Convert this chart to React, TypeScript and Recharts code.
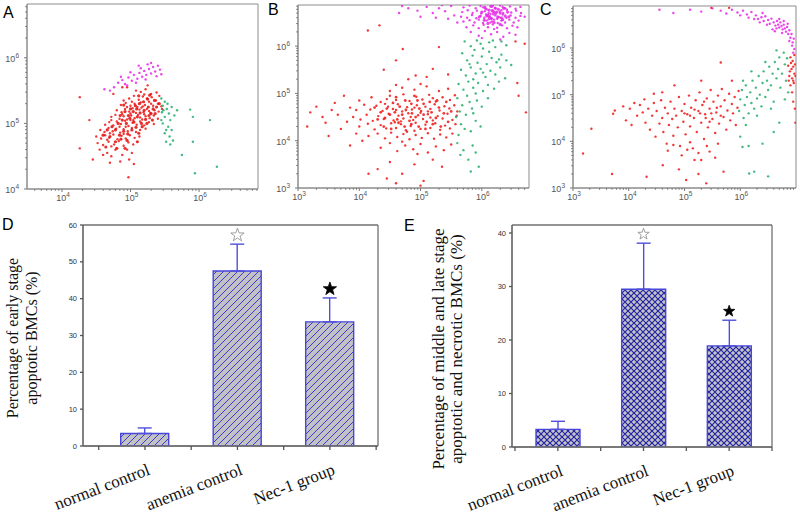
import React from "react"
import { Bar, CartesianGrid, ComposedChart, ErrorBar, Scatter, ScatterChart, XAxis, YAxis } from "recharts"

type Pt = [number, number]

// flow cytometry dots as log10 values (x = Annexin V, y = PI)
const aRed: Pt[] = [
  [5.15, 5.48], [5.22, 5.52], [5.3, 5.45], [5.08, 5.5], [5.38, 5.47], [4.95, 5.55], [5.25, 5.58],
  [4.98, 5.38], [5.05, 5.42], [5.12, 5.36], [5.18, 5.41], [5.24, 5.38], [5.31, 5.4], [5.37, 5.35], [5.42, 5.42], [5.02, 5.33], [5.2, 5.44],
  [4.86, 5.28], [4.93, 5.31], [5.0, 5.27], [5.06, 5.3], [5.1, 5.25], [5.15, 5.32], [5.21, 5.28], [5.27, 5.33], [5.33, 5.27], [5.4, 5.3], [5.45, 5.26], [4.9, 5.35], [5.18, 5.26], [5.3, 5.3],
  [4.8, 5.2], [4.87, 5.17], [4.92, 5.22], [4.98, 5.18], [5.03, 5.23], [5.08, 5.16], [5.13, 5.21], [5.19, 5.17], [5.24, 5.22], [5.29, 5.16], [5.35, 5.2], [5.41, 5.18], [5.46, 5.22], [5.0, 5.15], [5.16, 5.24], [5.27, 5.19], [4.95, 5.25],
  [4.72, 5.1], [4.78, 5.13], [4.84, 5.07], [4.9, 5.11], [4.95, 5.06], [5.01, 5.12], [5.06, 5.08], [5.11, 5.13], [5.17, 5.06], [5.22, 5.11], [5.28, 5.08], [5.34, 5.12], [5.4, 5.07], [4.88, 5.14], [5.04, 5.05], [5.2, 5.14], [5.14, 5.09],
  [4.63, 4.98], [4.69, 5.02], [4.75, 4.97], [4.8, 5.03], [4.86, 4.99], [4.92, 5.04], [4.97, 4.96], [5.03, 5.01], [5.09, 4.98], [5.14, 5.03], [5.2, 4.97], [5.27, 5.02], [5.34, 4.99], [4.84, 4.95], [5.0, 5.05], [4.72, 5.05],
  [4.56, 4.9], [4.62, 4.87], [4.68, 4.93], [4.74, 4.88], [4.79, 4.92], [4.85, 4.86], [4.9, 4.91], [4.96, 4.88], [5.02, 4.93], [5.08, 4.87], [5.14, 4.9], [5.22, 4.92], [4.7, 4.85], [4.93, 4.95],
  [4.5, 4.8], [4.57, 4.77], [4.63, 4.82], [4.69, 4.78], [4.75, 4.83], [4.81, 4.76], [4.87, 4.81], [4.93, 4.77], [4.99, 4.82], [5.06, 4.78], [5.13, 4.8], [4.66, 4.75], [4.9, 4.84],
  [4.52, 4.7], [4.6, 4.67], [4.68, 4.72], [4.76, 4.68], [4.83, 4.73], [4.9, 4.66], [4.97, 4.71], [5.04, 4.68], [4.72, 4.65],
  [4.55, 4.6], [4.66, 4.55], [4.78, 4.6], [4.88, 4.52], [4.95, 4.6], [4.72, 4.5], [5.02, 4.55], [4.6, 4.52],
  [4.85, 4.42], [4.98, 4.45], [4.7, 4.4], [5.05, 4.38],
  [4.26, 5.4], [4.26, 4.62], [4.97, 4.18], [4.45, 4.45], [4.4, 5.05], [4.88, 5.55], [4.75, 5.45],
]
// the densest part of the red cloud in A
const aRedCore: Pt[] = [
  [4.82, 5.0], [4.88, 5.05], [4.94, 5.0], [4.99, 5.08], [5.05, 5.02], [5.1, 5.1], [5.16, 5.0], [5.22, 5.06], [5.27, 5.12], [5.32, 5.05],
  [4.85, 5.12], [4.92, 5.18], [4.97, 5.12], [5.04, 5.18], [5.09, 5.22], [5.14, 5.16], [5.2, 5.2], [5.26, 5.25], [5.33, 5.22], [5.38, 5.25],
  [5.0, 5.22], [5.07, 5.27], [5.13, 5.3], [5.19, 5.33], [5.25, 5.37], [5.35, 5.35], [4.78, 4.9], [4.84, 4.82], [4.9, 4.88], [4.96, 4.84],
  [5.02, 4.9], [5.08, 4.94], [5.12, 4.85], [4.73, 4.95], [4.66, 4.9], [4.6, 4.82], [4.7, 4.8], [4.78, 4.72], [4.86, 4.76], [4.95, 4.74],
  [5.1, 4.72], [4.8, 4.62], [4.92, 4.62], [4.64, 4.64], [5.17, 4.95], [5.24, 5.0], [5.3, 5.15], [5.42, 5.3], [4.9, 5.28], [5.12, 5.42],
  [5.28, 5.43], [5.36, 5.15],
]
const aPink: Pt[] = [
  [4.76, 5.55], [4.82, 5.62], [4.88, 5.66], [4.92, 5.6], [4.97, 5.7], [5.02, 5.65], [5.05, 5.74], [5.1, 5.68], [5.13, 5.77], [5.17, 5.71],
  [5.2, 5.8], [5.23, 5.74], [5.27, 5.83], [5.3, 5.76], [5.33, 5.86], [5.36, 5.79], [5.4, 5.88], [5.43, 5.82], [5.0, 5.78], [5.15, 5.84],
  [5.25, 5.9], [4.86, 5.71], [5.08, 5.62], [5.22, 5.67], [5.38, 5.72], [4.95, 5.58], [5.3, 5.92], [4.7, 5.5], [5.12, 5.88], [5.45, 5.75], [4.62, 5.52],
]
const aGreen: Pt[] = [
  [5.45, 5.38], [5.5, 5.33], [5.47, 5.27], [5.53, 5.22], [5.46, 5.17], [5.56, 5.15], [5.5, 5.1], [5.58, 5.05], [5.47, 5.0], [5.55, 4.95],
  [5.6, 4.9], [5.5, 4.85], [5.57, 4.8], [5.62, 4.74], [5.52, 4.72], [5.48, 5.2], [5.54, 5.3], [5.6, 5.25], [5.45, 5.05], [5.52, 4.9],
  [5.64, 5.12], [5.68, 5.2], [5.58, 4.68], [5.87, 5.21], [5.91, 4.72], [6.16, 5.05], [6.26, 4.34], [5.94, 4.24], [5.75, 4.52], [5.91, 5.1],
]

const bRed: Pt[] = [
  [4.5, 5.05], [4.7, 5.12], [4.9, 5.08], [5.1, 5.15], [5.3, 5.05], [4.6, 5.18], [5.0, 5.2], [5.45, 5.1],
  [4.0, 4.85], [4.2, 4.92], [4.35, 4.82], [4.5, 4.95], [4.6, 4.86], [4.72, 4.98], [4.82, 4.84], [4.93, 4.93], [5.03, 4.87], [5.14, 4.97], [5.25, 4.83], [5.36, 4.92], [5.48, 4.86], [5.56, 4.96], [4.45, 4.88], [5.2, 4.9],
  [3.85, 4.7], [3.95, 4.65], [4.08, 4.76], [4.18, 4.66], [4.28, 4.74], [4.38, 4.63], [4.47, 4.72], [4.55, 4.67], [4.63, 4.77], [4.7, 4.62], [4.78, 4.71], [4.86, 4.66], [4.94, 4.75], [5.01, 4.63], [5.08, 4.72], [5.16, 4.67], [5.23, 4.77], [5.31, 4.64], [5.39, 4.73], [5.47, 4.68], [5.55, 4.75], [5.6, 4.62], [4.6, 4.65], [4.9, 4.7], [5.12, 4.62], [4.42, 4.78],
  [3.9, 4.5], [4.02, 4.45], [4.12, 4.55], [4.22, 4.42], [4.31, 4.52], [4.4, 4.46], [4.48, 4.57], [4.56, 4.43], [4.64, 4.53], [4.72, 4.47], [4.8, 4.58], [4.88, 4.44], [4.96, 4.54], [5.04, 4.46], [5.12, 4.56], [5.2, 4.43], [5.28, 4.52], [5.36, 4.47], [5.44, 4.57], [5.52, 4.44], [5.59, 4.53], [4.68, 4.41], [4.84, 4.5], [5.0, 4.59], [5.16, 4.49],
  [4.0, 4.3], [4.14, 4.36], [4.25, 4.24], [4.35, 4.33], [4.44, 4.26], [4.52, 4.37], [4.6, 4.27], [4.68, 4.35], [4.76, 4.22], [4.84, 4.31], [4.92, 4.38], [5.0, 4.25], [5.08, 4.34], [5.16, 4.27], [5.24, 4.37], [5.32, 4.23], [5.4, 4.32], [5.48, 4.26], [5.57, 4.35], [4.9, 4.21], [4.58, 4.39],
  [4.15, 4.1], [4.3, 4.15], [4.42, 4.05], [4.52, 4.17], [4.62, 4.08], [4.72, 4.14], [4.82, 4.03], [4.92, 4.12], [5.02, 4.06], [5.12, 4.16], [5.22, 4.04], [5.32, 4.13], [5.42, 4.07], [5.52, 4.15], [4.78, 4.19],
  [4.35, 3.85], [4.5, 3.95], [4.62, 3.78], [4.75, 3.9], [4.88, 3.82], [5.0, 3.93], [5.12, 3.75], [5.25, 3.88], [5.38, 3.8], [5.5, 3.92], [4.95, 3.72], [4.7, 3.98],
  [4.3, 3.4], [4.5, 3.55], [4.7, 3.3], [4.9, 3.5], [5.05, 3.15], [5.2, 3.6], [4.6, 3.1], [5.35, 3.45], [4.45, 3.2], [5.0, 3.05], [4.15, 3.3],
  [3.2, 4.6], [3.3, 4.72], [3.4, 4.5], [3.55, 4.65], [3.65, 4.55], [3.45, 4.38], [3.7, 4.25], [3.15, 4.3], [3.6, 4.8], [3.75, 4.95], [3.8, 4.4], [3.5, 4.1], [3.85, 3.9], [3.95, 4.15], [4.05, 4.0],
  [4.71, 5.94], [5.3, 5.98], [4.92, 5.38], [5.2, 5.52], [4.33, 6.44], [4.14, 6.33], [4.8, 5.3], [5.1, 5.35], [4.4, 5.5], [4.6, 5.7], [5.45, 5.4],
  [6.55, 6.1], [6.7, 6.05], [6.58, 5.22], [6.72, 4.6], [6.6, 4.95],
]
const bRedCore: Pt[] = [
  [4.35, 4.6], [4.42, 4.48], [4.5, 4.55], [4.58, 4.6], [4.62, 4.45], [4.7, 4.55], [4.76, 4.65], [4.82, 4.42], [4.86, 4.58], [4.92, 4.5],
  [4.98, 4.68], [5.05, 4.55], [5.1, 4.4], [5.18, 4.6], [5.25, 4.48], [5.3, 4.7], [5.38, 4.58], [4.45, 4.68], [4.55, 4.8], [4.66, 4.72],
  [4.75, 4.85], [4.85, 4.78], [4.95, 4.85], [5.05, 4.78], [5.15, 4.82], [5.27, 4.85], [4.4, 4.3], [4.52, 4.25], [4.64, 4.38], [4.74, 4.3],
  [4.85, 4.35], [4.97, 4.3], [5.08, 4.25], [5.2, 4.35], [5.33, 4.3], [5.45, 4.4], [5.5, 4.62], [5.42, 4.82], [4.3, 4.45], [4.25, 4.7],
  [4.6, 4.92], [4.9, 4.95],
]
const bPink: Pt[] = [
  [5.7, 6.82], [5.8, 6.86], [5.9, 6.8], [5.98, 6.85], [6.06, 6.79], [6.14, 6.84], [6.22, 6.81], [6.3, 6.86], [6.38, 6.8], [6.46, 6.84], [6.55, 6.79], [6.63, 6.83], [6.02, 6.82], [6.18, 6.86], [6.34, 6.83],
  [5.68, 6.72], [5.77, 6.76], [5.85, 6.7], [5.92, 6.75], [5.99, 6.69], [6.05, 6.74], [6.11, 6.7], [6.17, 6.76], [6.23, 6.69], [6.29, 6.73], [6.35, 6.7], [6.41, 6.77], [6.48, 6.71], [6.56, 6.75], [6.64, 6.7], [6.08, 6.78], [6.2, 6.72], [6.32, 6.76], [6.14, 6.68],
  [5.66, 6.62], [5.76, 6.6], [5.84, 6.66], [5.91, 6.59], [5.98, 6.64], [6.04, 6.6], [6.1, 6.66], [6.16, 6.59], [6.22, 6.65], [6.28, 6.61], [6.34, 6.67], [6.4, 6.6], [6.47, 6.65], [6.55, 6.6], [6.63, 6.64], [6.7, 6.62], [6.13, 6.63], [6.25, 6.58], [6.07, 6.67],
  [5.7, 6.52], [5.8, 6.55], [5.88, 6.5], [5.95, 6.56], [6.02, 6.49], [6.08, 6.54], [6.14, 6.5], [6.2, 6.56], [6.26, 6.49], [6.32, 6.54], [6.38, 6.5], [6.45, 6.56], [6.52, 6.5], [6.6, 6.54], [6.17, 6.52], [6.11, 6.57],
  [5.75, 6.4], [5.86, 6.44], [5.95, 6.38], [6.03, 6.45], [6.1, 6.4], [6.18, 6.46], [6.25, 6.39], [6.33, 6.44], [6.41, 6.38], [6.5, 6.43], [6.58, 6.4], [6.2, 6.36],
  [5.82, 6.3], [5.95, 6.22], [6.05, 6.32], [6.15, 6.25], [6.25, 6.3], [6.35, 6.2], [6.45, 6.28], [6.55, 6.24], [6.0, 6.17], [6.3, 6.14],
  [4.65, 6.7], [4.8, 6.8], [4.95, 6.75], [5.1, 6.83], [5.2, 6.7], [5.3, 6.8], [5.4, 6.74], [5.5, 6.85], [5.55, 6.65], [5.45, 6.58], [5.25, 6.6], [5.6, 6.5], [5.0, 6.62], [4.7, 6.85], [5.35, 6.87],
]
const bPinkCore: Pt[] = [
  [5.96, 6.62], [6.0, 6.72], [6.04, 6.55], [6.08, 6.64], [6.12, 6.76], [6.15, 6.58], [6.19, 6.68], [6.22, 6.8], [6.26, 6.62], [6.3, 6.7],
  [6.34, 6.56], [6.38, 6.64], [6.42, 6.72], [6.1, 6.48], [6.2, 6.5], [6.3, 6.46], [6.05, 6.82], [6.16, 6.84], [6.27, 6.78], [6.36, 6.8],
  [6.44, 6.62], [6.24, 6.72], [6.12, 6.62], [6.32, 6.6], [6.18, 6.74],
]
const bGreen: Pt[] = [
  [5.72, 6.1], [5.82, 6.0], [5.92, 6.12], [6.02, 5.95], [6.12, 6.08], [6.22, 5.98], [6.32, 6.1], [6.4, 6.02], [5.98, 6.05], [6.18, 6.12], [5.88, 5.92],
  [5.68, 5.85], [5.76, 5.7], [5.85, 5.8], [5.93, 5.65], [6.0, 5.78], [6.08, 5.62], [6.16, 5.75], [6.24, 5.66], [6.32, 5.82], [6.4, 5.7], [6.48, 5.6], [5.8, 5.62], [6.12, 5.88], [6.28, 5.72],
  [5.66, 5.5], [5.74, 5.38], [5.82, 5.55], [5.9, 5.42], [5.98, 5.52], [6.06, 5.35], [6.14, 5.48], [6.22, 5.4], [6.3, 5.55], [6.38, 5.32], [5.86, 5.3], [6.02, 5.44],
  [5.62, 5.2], [5.7, 5.08], [5.78, 5.25], [5.86, 5.12], [5.94, 5.22], [6.02, 5.05], [6.1, 5.18], [6.2, 5.1], [6.28, 5.25], [5.9, 5.0],
  [5.6, 4.9], [5.68, 4.75], [5.76, 4.95], [5.84, 4.68], [5.92, 4.85], [6.0, 4.72], [6.1, 4.9], [5.64, 4.62], [5.8, 4.82],
  [5.58, 4.5], [5.66, 4.35], [5.74, 4.55], [5.82, 4.2], [5.9, 4.42], [5.98, 4.3], [5.62, 4.12], [5.86, 4.58], [5.72, 4.25],
  [5.6, 3.95], [5.7, 3.8], [5.78, 3.6], [5.85, 3.9], [5.95, 3.45], [5.82, 3.35], [5.65, 3.7], [5.9, 3.75],
]

const cRed: Pt[] = [
  [3.18, 3.74], [3.33, 4.27], [3.72, 4.59], [3.75, 4.66], [3.95, 4.45], [3.9, 4.75], [4.02, 4.7], [4.1, 4.82], [4.15, 4.55], [4.05, 4.35], [4.2, 4.78], [4.25, 4.62], [4.3, 4.4], [4.28, 4.9], [4.35, 4.7], [4.38, 4.25],
  [4.42, 4.55], [4.45, 4.82], [4.48, 4.1], [4.5, 4.65], [4.55, 4.38], [4.58, 4.88], [4.6, 4.5], [4.62, 4.2], [4.65, 4.72], [4.68, 3.95], [4.7, 4.6], [4.72, 4.35], [4.75, 4.85], [4.78, 4.48], [4.8, 4.12], [4.82, 4.7],
  [4.85, 4.55], [4.88, 4.3], [4.9, 4.95], [4.92, 3.9], [4.95, 4.65], [4.98, 4.42], [5.0, 4.8], [5.02, 4.15], [5.05, 4.58], [5.08, 4.98], [5.1, 4.32], [5.12, 4.72], [5.15, 3.85], [5.17, 4.5], [5.2, 4.88], [5.22, 4.2],
  [5.25, 4.65], [5.27, 5.05], [5.3, 4.4], [5.32, 4.78], [5.35, 4.05], [5.37, 4.58], [5.4, 4.92], [5.42, 4.3], [5.45, 4.7], [5.47, 5.1], [5.5, 4.48], [5.52, 4.85], [5.55, 4.18], [5.57, 4.62], [5.6, 4.98], [5.62, 4.38],
  [5.65, 4.75], [5.67, 5.12], [5.7, 4.52], [5.72, 4.88], [5.75, 4.25], [5.77, 4.66], [5.8, 5.02], [5.82, 4.45], [5.85, 4.8], [5.87, 4.6], [5.9, 4.95], [5.92, 4.35], [5.95, 4.72], [5.97, 5.08], [5.28, 4.6], [5.18, 4.68],
  [5.38, 4.5], [5.48, 4.6], [5.58, 4.72], [5.1, 4.55], [5.0, 4.6], [5.35, 4.85], [5.45, 4.42], [5.65, 4.55],
  [4.8, 3.92], [4.95, 3.7], [5.1, 3.98], [5.25, 3.75], [5.4, 3.9], [5.55, 3.65], [5.05, 3.82], [5.3, 3.6], [4.7, 3.8], [5.6, 3.95], [5.45, 3.78],
  [5.03, 3.17], [5.18, 3.6], [4.32, 3.24], [5.39, 3.1], [4.61, 3.49], [5.25, 3.3], [5.7, 3.35], [4.9, 3.4], [3.7, 3.3],
  [5.65, 5.69], [5.48, 6.86], [5.8, 6.86], [4.82, 5.2], [4.6, 5.05], [5.3, 5.3], [5.85, 5.3], [4.45, 5.02],
  [6.9, 5.2], [6.95, 5.3], [6.88, 5.4], [6.97, 5.45], [6.92, 5.55], [6.86, 5.62], [6.98, 5.65], [6.94, 5.72], [6.9, 5.8], [6.97, 5.85], [6.87, 5.3],
  [6.93, 5.35], [6.96, 5.25], [6.89, 5.5], [6.95, 5.6], [6.99, 5.4], [6.91, 5.68], [6.98, 4.7], [6.95, 4.85], [6.99, 4.4], [6.93, 5.05],
]
const cPink: Pt[] = [
  [4.8, 6.75], [5.1, 6.82], [5.3, 6.78], [5.5, 6.85], [5.65, 6.8], [5.75, 6.74], [5.85, 6.82], [5.95, 6.76], [6.05, 6.8], [6.12, 6.72], [6.2, 6.77], [6.28, 6.7], [6.32, 6.62], [6.38, 6.66],
  [6.42, 6.58], [6.45, 6.68], [6.5, 6.6], [6.53, 6.52], [6.56, 6.63], [6.6, 6.55], [6.63, 6.48], [6.66, 6.58], [6.68, 6.5], [6.7, 6.44], [6.72, 6.55], [6.74, 6.47], [6.76, 6.4], [6.78, 6.5],
  [6.8, 6.42], [6.82, 6.35], [6.84, 6.45], [6.86, 6.3], [6.88, 6.38], [6.9, 6.22], [6.92, 6.3], [6.94, 6.12], [6.96, 6.2], [6.93, 6.05], [6.97, 5.98], [6.95, 5.9], [6.35, 6.55], [6.58, 6.4],
  [6.75, 6.32], [6.25, 6.62], [6.48, 6.5], [6.65, 6.42], [6.85, 6.52], [6.15, 6.65], [6.0, 6.7], [6.4, 6.75], [6.7, 6.62], [4.55, 6.82], [6.78, 6.58], [6.62, 6.36], [6.88, 6.15],
]
const cGreen: Pt[] = [
  [5.98, 4.65], [6.0, 4.9], [6.03, 5.1], [6.06, 4.5], [6.08, 4.78], [6.1, 5.2], [6.12, 4.95], [6.15, 4.6], [6.18, 5.05], [6.2, 4.82], [6.22, 5.3], [6.25, 4.7], [6.28, 5.15], [6.3, 4.92],
  [6.33, 5.4], [6.35, 5.0], [6.38, 4.75], [6.4, 5.25], [6.42, 5.5], [6.45, 4.95], [6.48, 5.3], [6.5, 5.1], [6.52, 5.6], [6.55, 5.2], [6.58, 5.45], [6.6, 4.85], [6.62, 5.7], [6.65, 5.35],
  [6.68, 5.55], [6.7, 5.8], [6.72, 5.15], [6.75, 5.45], [6.78, 5.9], [6.8, 5.65], [6.82, 5.3], [6.84, 5.78], [6.86, 5.05], [6.3, 4.55], [6.1, 4.35], [6.55, 4.7], [6.05, 5.3], [6.2, 5.5],
  [6.45, 5.7], [6.65, 5.95], [6.8, 4.9], [6.0, 4.1], [6.15, 3.9], [6.4, 3.95], [6.7, 4.4], [6.25, 3.35], [6.5, 3.25], [6.6, 4.2], [6.04, 3.88], [6.16, 3.31],
]

const aMajor = [4, 5, 6]
const bMajor = [3, 4, 5, 6]

// bar charts D and E
const groups = ["normal control", "anemia control", "Nec-1 group"]
const earlyMean = [3.4, 47.5, 33.7]
const earlyErr = [1.5, 7.3, 6.5]
const lateMean = [3.3, 29.5, 18.9]
const lateErr = [1.5, 8.6, 4.8]
const marks = ["", "open", "filled"]
const earlyTicks = [0, 10, 20, 30, 40, 50, 60]
const lateTicks = [0, 10, 20, 30, 40]
const groupTicks = [0.5, 1, 1.5, 2, 2.5, 3, 3.5]

const RED = "#f01414"
const PINK = "#e626e6"
const GREEN = "#22ad6a"
const SANS = "'Liberation Sans', Arial, sans-serif"
const SERIF = "'Liberation Serif', 'Times New Roman', serif"

const minorTicks = (lo: number, hi: number) => {
  const out: number[] = []
  for (let d = Math.floor(lo); d < hi; d++) {
    for (let k = 2; k <= 9; k++) {
      const v = d + Math.log10(k)
      if (v > lo && v < hi) out.push(v)
    }
  }
  return out
}

// full frame around the plot area
const frameRows = ({ offset }: any) => [offset.top, offset.top + offset.height]
const frameCols = ({ offset }: any) => [offset.left, offset.left + offset.width]

const LogTick = ({ x, y, payload, side }: any) => {
  const v = payload.value
  const major = Math.abs(v - Math.round(v)) < 1e-6
  const len = major ? 3 : 1.8
  if (side === "x") {
    return (
      <g>
        <line x1={x} y1={y} x2={x} y2={y + len} stroke="#777" />
        {major && (
          <text x={x + 1} y={y + 12} textAnchor="middle" fontSize={9} fontFamily={SANS} fill="#555">
            10<tspan dy={-4} fontSize={6.5}>{Math.round(v)}</tspan>
          </text>
        )}
      </g>
    )
  }
  return (
    <g>
      <line x1={x} y1={y} x2={x - len} y2={y} stroke="#777" />
      {major && (
        <text x={x - 8} y={y + 4} textAnchor="end" fontSize={9} fontFamily={SANS} fill="#555">
          10<tspan dy={-4} fontSize={6.5}>{Math.round(v)}</tspan>
        </text>
      )}
    </g>
  )
}

const dot = (color: string, r: number) => (p: any) => <circle cx={p.cx} cy={p.cy} r={r} fill={color} fillOpacity={0.85} />

type FlowProps = {
  left: number
  top: number
  w: number
  h: number
  xDomain: [number, number]
  yDomain: [number, number]
  xMajor: number[]
  yMajor: number[]
  series: { pts: Pt[]; color: string; r?: number }[]
}

function FlowPanel({ left, top, w, h, xDomain, yDomain, xMajor, yMajor, series }: FlowProps) {
  const xTicks = [...xMajor, ...minorTicks(xDomain[0], xDomain[1])].sort((a, b) => a - b)
  const yTicks = [...yMajor, ...minorTicks(yDomain[0], yDomain[1])].sort((a, b) => a - b)
  return (
    <div style={{ position: "absolute", left: left - 27, top: top - 4 }}>
      <ScatterChart width={w + 31} height={h + 20} margin={{ top: 4, right: 4, bottom: 0, left: 0 }}>
        <CartesianGrid
          stroke="#8c8c8c"
          horizontalCoordinatesGenerator={frameRows}
          verticalCoordinatesGenerator={frameCols}
        />
        <XAxis
          type="number"
          dataKey="x"
          domain={xDomain}
          ticks={xTicks}
          interval={0}
          allowDataOverflow
          height={16}
          tickLine={false}
          tickSize={0}
          tickMargin={0}
          stroke="#8c8c8c"
          tick={<LogTick side="x" />}
        />
        <YAxis
          type="number"
          dataKey="y"
          domain={yDomain}
          ticks={yTicks}
          interval={0}
          allowDataOverflow
          width={27}
          tickLine={false}
          tickSize={0}
          tickMargin={0}
          stroke="#8c8c8c"
          tick={<LogTick side="y" />}
        />
        {series.map((s, i) => (
          <Scatter
            key={i}
            data={s.pts.map(([x, y]) => ({ x, y }))}
            isAnimationActive={false}
            shape={dot(s.color, s.r ?? 1.2)}
          />
        ))}
      </ScatterChart>
    </div>
  )
}

const starPath = (cx: number, cy: number, R: number, r: number) => {
  let d = ""
  for (let i = 0; i < 10; i++) {
    const a = -Math.PI / 2 + (i * Math.PI) / 5
    const rad = i % 2 === 0 ? R : r
    d += (i === 0 ? "M" : "L") + (cx + rad * Math.cos(a)).toFixed(2) + "," + (cy + rad * Math.sin(a)).toFixed(2)
  }
  return d + "Z"
}

const CatTick = ({ x, y, payload }: any) => {
  const v = payload.value
  if (!Number.isInteger(v)) return null
  const tx = x + 6
  const ty = y + 24
  return (
    <text x={tx} y={ty} transform={`rotate(-21 ${tx} ${ty})`} textAnchor="end" fontFamily={SERIF} fontSize={17} fill="#111">
      {groups[v - 1]}
    </text>
  )
}

type BarProps = {
  left: number
  width: number
  yWidth: number
  right: number
  plotH: number
  means: number[]
  errs: number[]
  yDomain: [number, number]
  yTicks: number[]
  xDomain: [number, number]
  barSize: number
  fillId: string
  pattern: React.ReactNode
  title: string[]
  titleX: number[]
  titleY: number
  titleSize: number
  starR: number
}

function BarPanel(p: BarProps) {
  const rows = groups.map((name, i) => ({
    pos: i + 1,
    name,
    mean: p.means[i],
    err: [0, p.errs[i]],
    top: p.means[i] + p.errs[i],
    mark: marks[i],
  }))
  const starred = rows.filter((r) => r.mark)
  return (
    <div style={{ position: "absolute", left: p.left, top: 215 }}>
      <ComposedChart data={rows} width={p.width} height={307} margin={{ top: 10, right: p.right, bottom: 0, left: 0 }}>
        <defs>{p.pattern}</defs>
        <CartesianGrid
          stroke="#707070"
          strokeWidth={1.3}
          horizontalCoordinatesGenerator={frameRows}
          verticalCoordinatesGenerator={frameCols}
        />
        <XAxis
          type="number"
          dataKey="pos"
          domain={p.xDomain}
          ticks={groupTicks}
          interval={0}
          allowDataOverflow
          height={307 - 10 - p.plotH}
          stroke="#707070"
          strokeWidth={1.3}
          tickSize={4}
          tickMargin={0}
          tickLine={{ stroke: "#555" }}
          tick={<CatTick />}
        />
        <YAxis
          type="number"
          domain={p.yDomain}
          ticks={p.yTicks}
          interval={0}
          allowDataOverflow
          width={p.yWidth}
          stroke="#707070"
          strokeWidth={1.3}
          tickSize={3}
          tickMargin={3}
          tickLine={{ stroke: "#555" }}
          tick={{ fontSize: 7.5, fill: "#333", fontFamily: SANS }}
        />
        <Bar dataKey="mean" barSize={p.barSize} fill={`url(#${p.fillId})`} stroke="#4646dc" strokeWidth={1.4} isAnimationActive={false}>
          <ErrorBar dataKey="err" direction="y" width={7} stroke="#4f4fdc" strokeWidth={1.4} />
        </Bar>
        <Scatter
          data={starred}
          dataKey="top"
          isAnimationActive={false}
          shape={(s: any) => (
            <path
              d={starPath(s.cx, s.cy - 9, p.starR, p.starR * 0.4)}
              fill={s.payload.mark === "filled" ? "#000" : "#fff"}
              stroke={s.payload.mark === "filled" ? "#000" : "#8a8a8a"}
              strokeWidth={0.8}
            />
          )}
        />
        {p.title.map((line, i) => (
          <text
            key={i}
            x={p.titleX[i]}
            y={p.titleY}
            transform={`rotate(-90 ${p.titleX[i]} ${p.titleY})`}
            textAnchor="middle"
            fontFamily={SERIF}
            fontSize={p.titleSize}
            fill="#111"
          >
            {line}
          </text>
        ))}
      </ComposedChart>
    </div>
  )
}

const letter = (t: string, x: number, y: number) => (
  <div style={{ position: "absolute", left: x, top: y, fontFamily: SANS, fontSize: 16, color: "#000", lineHeight: "16px" }}>{t}</div>
)

export default function App() {
  return (
    <div style={{ position: "absolute", left: 0, top: 0, width: 800, height: 522, background: "#fff", overflow: "hidden" }}>
      <FlowPanel
        left={27}
        top={4}
        w={231}
        h={185}
        xDomain={[3.49, 6.86]}
        yDomain={[4, 6.82]}
        xMajor={aMajor}
        yMajor={aMajor}
        series={[
          { pts: aRed, color: RED },
          { pts: aRedCore, color: "#e00c0c", r: 1.6 },
          { pts: aPink, color: PINK },
          { pts: aGreen, color: GREEN },
        ]}
      />
      <FlowPanel
        left={298}
        top={5}
        w={231}
        h={183}
        xDomain={[3, 6.77]}
        yDomain={[3, 6.87]}
        xMajor={bMajor}
        yMajor={bMajor}
        series={[
          { pts: bRed, color: RED },
          { pts: bRedCore, color: RED, r: 1.4 },
          { pts: bPink, color: PINK },
          { pts: bPinkCore, color: PINK, r: 1.6 },
          { pts: bGreen, color: GREEN },
        ]}
      />
      <FlowPanel
        left={573}
        top={6}
        w={223}
        h={182}
        xDomain={[3, 7]}
        yDomain={[3, 6.9]}
        xMajor={bMajor}
        yMajor={bMajor}
        series={[
          { pts: cRed, color: RED },
          { pts: cPink, color: PINK },
          { pts: cGreen, color: GREEN },
        ]}
      />
      <BarPanel
        left={0}
        width={390}
        yWidth={83}
        right={12}
        plotH={221}
        means={earlyMean}
        errs={earlyErr}
        yDomain={[0, 60]}
        yTicks={earlyTicks}
        xDomain={[0.33, 3.52]}
        barSize={48}
        fillId="hatchD"
        pattern={
          <pattern id="hatchD" patternUnits="userSpaceOnUse" width={7} height={7}>
            <rect width={7} height={7} fill="#c2c2c6" />
            <path d="M-1,1 L1,-1 M0,7 L7,0 M6,8 L8,6" stroke="#3c3cd8" strokeWidth={1} />
          </pattern>
        }
        title={["Percentage of early stage", "apoptotic BMCs (%)"]}
        titleX={[18, 37]}
        titleY={123}
        titleSize={16}
        starR={7}
      />
      <BarPanel
        left={400}
        width={400}
        yWidth={112}
        right={28}
        plotH={222}
        means={lateMean}
        errs={lateErr}
        yDomain={[0, 41.5]}
        yTicks={lateTicks}
        xDomain={[0.465, 3.5]}
        barSize={44}
        fillId="crossE"
        pattern={
          <pattern id="crossE" patternUnits="userSpaceOnUse" width={6} height={6}>
            <rect width={6} height={6} fill="#c4c4c8" />
            <path d="M0,0 L6,6 M6,0 L0,6" stroke="#2020a0" strokeWidth={1.15} />
          </pattern>
        }
        title={["Percentage of middle and late stage", "apoptotic and necrotic BMCs (%)"]}
        titleX={[44, 62]}
        titleY={134}
        titleSize={17}
        starR={6}
      />
      {letter("A", 3, 5)}
      {letter("B", 268, 2)}
      {letter("C", 540, 2)}
      {letter("D", 2, 217)}
      {letter("E", 404, 218)}
    </div>
  )
}
